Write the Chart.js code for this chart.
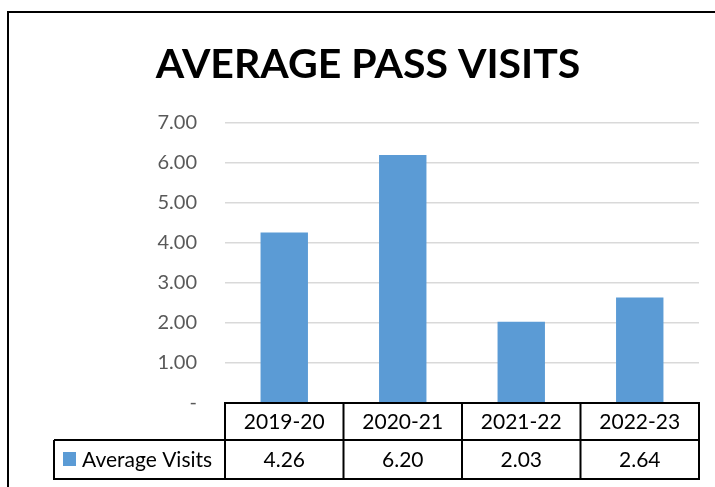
<!DOCTYPE html>
<html>
<head>
<meta charset="utf-8">
<script src="https://cdn.jsdelivr.net/npm/chart.js@4/dist/chart.umd.min.js"></script>
<style>
  html, body { margin: 0; padding: 0; background: #fff; }
  canvas { display: block; }
</style>
</head>
<body>
<canvas id="myChart" width="715" height="487"></canvas>
<script>
const titleText = 'AVERAGE PASS VISITS';
const seasons = ['2019-20', '2020-21', '2021-22', '2022-23'];
const seriesName = 'Average Visits';
const averageVisits = [4.26, 6.20, 2.03, 2.64];
const barColor = '#5B9BD5';

// draws the frame, the title and the data table under the bars
const tablePlugin = {
    id: 'tablePlugin',
    afterDraw(chart) {
        const c = chart.ctx;
        const x = chart.scales.x;
        const area = chart.chartArea;
        const rowH1 = 37, rowH2 = 39;
        const top = area.bottom;
        const mid = top + rowH1;
        const bot = mid + rowH2;
        const legendLeft = 54;

        c.save();
        // outer frame
        c.strokeStyle = '#000';
        c.lineWidth = 2;
        c.beginPath();
        c.moveTo(8, 490);
        c.lineTo(8, 12);
        c.lineTo(720, 12);
        c.stroke();

        // title
        c.fillStyle = '#000';
        c.font = 'bold 41px Lato';
        c.textAlign = 'center';
        c.textBaseline = 'alphabetic';
        c.fillText(titleText, 368, 78);

        // table grid
        c.beginPath();
        c.rect(area.left, top, area.right - area.left, bot - top);
        c.moveTo(legendLeft, mid);
        c.lineTo(area.right, mid);
        c.moveTo(legendLeft, mid);
        c.lineTo(legendLeft, bot);
        c.lineTo(area.left, bot);
        for (let i = 1; i < seasons.length; i++) {
            const bx = (x.getPixelForValue(i - 1) + x.getPixelForValue(i)) / 2;
            c.moveTo(bx, top);
            c.lineTo(bx, bot);
        }
        c.stroke();

        // cell text
        c.font = '21px Lato';
        c.textBaseline = 'middle';
        c.fillStyle = '#000';
        seasons.forEach((s, i) => {
            const cx = x.getPixelForValue(i);
            c.fillText(s, cx, top + rowH1 / 2 + 1);
            c.fillText(averageVisits[i].toFixed(2), cx, mid + rowH2 / 2 + 1);
        });

        // legend key
        c.fillStyle = barColor;
        c.fillRect(63, mid + 12, 13, 14);
        c.fillStyle = '#000';
        c.textAlign = 'left';
        c.fillText(seriesName, 82, mid + rowH2 / 2 + 1);
        c.restore();
    }
};

const ctx = document.getElementById('myChart').getContext('2d');
const myChart = new Chart(ctx, {
    type: 'bar',
    data: {
        labels: seasons,
        datasets: [{
            label: seriesName,
            data: averageVisits,
            backgroundColor: barColor,
            borderWidth: 0,
            barPercentage: 0.4,
            categoryPercentage: 1
        }]
    },
    options: {
        responsive: false,
        animation: false,
        layout: {
            padding: { top: 123, left: 0, right: 16, bottom: 84 }
        },
        plugins: {
            legend: { display: false },
            title: { display: false },
            tooltip: { enabled: false }
        },
        scales: {
            x: {
                display: false
            },
            y: {
                min: 0,
                max: 7,
                afterFit(scale) { scale.width = 225; },
                border: { display: false },
                grid: {
                    color: '#d9d9d9',
                    lineWidth: 1.5,
                    drawTicks: false
                },
                ticks: {
                    stepSize: 1,
                    padding: 28,
                    color: '#595959',
                    font: { family: 'Lato', size: 20 },
                    callback: v => v === 0 ? '-' : v.toFixed(2)
                }
            }
        }
    },
    plugins: [tablePlugin]
});
</script>
</body>
</html>
